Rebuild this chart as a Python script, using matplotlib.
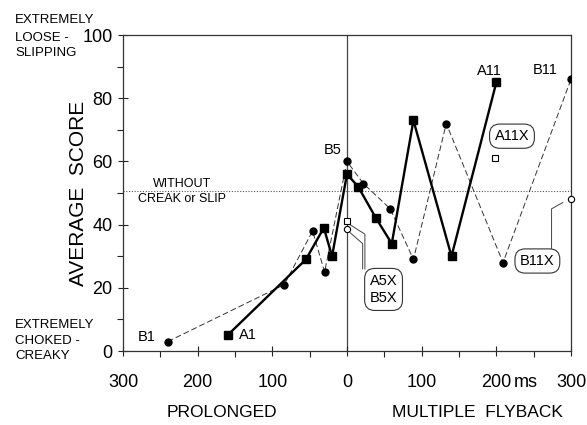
import matplotlib
matplotlib.use('Agg')
import matplotlib.pyplot as plt

plt.rcParams['font.family'] = ['Liberation Sans', 'DejaVu Sans']

# series A (solid, filled squares)
a_ms = [-160, -55, -31, -20, 0, 15, 39, 60, 89, 140, 200]
a_score = [5, 29, 39, 30, 56, 52, 42, 34, 73, 30, 85]
# series B (dashed, filled circles)
b_ms = [-240, -84, -46, -30, 0, 22, 58, 89, 133, 209, 300]
b_score = [3, 21, 38, 25, 60, 53, 45, 29, 72, 28, 86]
# open markers
ax_ms = [0, 198]
ax_score = [41, 61]
bx_ms = [0, 300]
bx_score = [38.5, 48]

xticks = [-300, -200, -100, 0, 100, 200, 300]
xticklabels = ['300', '200', '100', '0', '100', '200', '300']
yticks = [0, 20, 40, 60, 80, 100]

fig = plt.figure(figsize=(5.87, 4.25), dpi=100)
ax = fig.add_axes([0.2095, 0.174, 0.7632, 0.7435])

ax.set_xlim(-300, 300)
ax.set_ylim(0, 100)

line_col = '#222222'
ax.axhline(50.5, color='#555555', lw=0.8, ls=(0, (1, 1.5)), zorder=1)
ax.axvline(0, color='#444444', lw=0.9, zorder=1)

ax.plot(b_ms, b_score, color='#333333', lw=0.7, ls=(0, (6, 3)),
        marker='o', ms=5, mfc='black', mec='black', zorder=3)
ax.plot(a_ms, a_score, color='black', lw=1.7,
        marker='s', ms=5.5, mfc='black', mec='black', zorder=4)
ax.plot(ax_ms, ax_score, ls='none', marker='s', ms=4.5, mfc='white',
        mec='black', mew=0.8, zorder=5, clip_on=False)
ax.plot(bx_ms, bx_score, ls='none', marker='o', ms=4.5, mfc='white',
        mec='black', mew=0.8, zorder=5, clip_on=False)

# point labels
fs_pt = 10.5
ax.text(b_ms[0] - 16, b_score[0] + 1.3, 'B1', ha='right', va='center', fontsize=fs_pt)
ax.text(a_ms[0] + 16, a_score[0], 'A1', ha='left', va='center', fontsize=fs_pt)
ax.text(b_ms[4] - 7, b_score[4] + 3.5, 'B5', ha='right', va='center', fontsize=fs_pt)
ax.text(a_ms[-1] - 9, a_score[-1] + 3.5, 'A11', ha='center', va='center', fontsize=fs_pt)
ax.text(b_ms[-1] - 34, b_score[-1] + 3, 'B11', ha='center', va='center', fontsize=fs_pt)

box = dict(boxstyle='round,pad=0.35,rounding_size=0.7', fc='white',
           ec='#333333', lw=0.8)
ax.text(49, 19.5, 'A5X\nB5X', ha='center', va='center', fontsize=fs_pt,
        linespacing=1.35, bbox=box, zorder=6)
ax.text(221, 68, 'A11X', ha='center', va='center', fontsize=fs_pt, bbox=box, zorder=6)
ax.text(255, 28.5, 'B11X', ha='center', va='center', fontsize=fs_pt, bbox=box, zorder=6)

# leader lines
ax.plot([4, 24, 24], [40, 37, 26], color='#444444', lw=0.7, zorder=2)
ax.plot([4, 21, 21], [37.5, 34, 26], color='#444444', lw=0.7, zorder=2)
ax.plot([b_ms[-1] - 11, 274, 274], [47, 45, 31.5], color='#444444', lw=0.7, zorder=2)

ax.text(-221, 50.5, 'WITHOUT\nCREAK or SLIP', ha='center', va='center',
        fontsize=9, linespacing=1.25)

ax.set_xticks(xticks)
ax.set_xticklabels(xticklabels)
ax.set_xticks(range(-250, 300, 100), minor=True)
ax.set_yticks(yticks)
ax.set_yticks(range(10, 100, 20), minor=True)
ax.tick_params(which='major', direction='inout', length=7, width=0.8,
               labelsize=13, colors=line_col, labelcolor='black')
ax.tick_params(which='minor', direction='out', length=4, width=0.8, colors=line_col)
ax.tick_params(axis='x', which='major', pad=13)
ax.tick_params(axis='y', which='major', pad=4)
for s in ax.spines.values():
    s.set_color('#333333')
    s.set_linewidth(0.9)

ax.annotate('ms', xy=(240, 0), xycoords='data', xytext=(0, -31),
            textcoords='offset pixels', ha='center', va='center', fontsize=13)

ax.set_ylabel('AVERAGE  SCORE', fontsize=15)
ax.yaxis.set_label_coords(-0.078, 0.5)

fig.text(0.378, 0.03, 'PROLONGED', ha='center', va='center', fontsize=12.5)
fig.text(0.813, 0.03, 'MULTIPLE  FLYBACK', ha='center', va='center', fontsize=12.5)

# end-of-scale descriptions
fig.text(0.026, 0.953, 'EXTREMELY', ha='left', va='center', fontsize=9.5)
fig.text(0.026, 0.893, 'LOOSE -\nSLIPPING', ha='left', va='center',
         fontsize=9.5, linespacing=1.42)
fig.text(0.026, 0.198, 'EXTREMELY\nCHOKED -\nCREAKY', ha='left', va='center',
         fontsize=9.5, linespacing=1.38)

fig.savefig('out.png', dpi=100)
